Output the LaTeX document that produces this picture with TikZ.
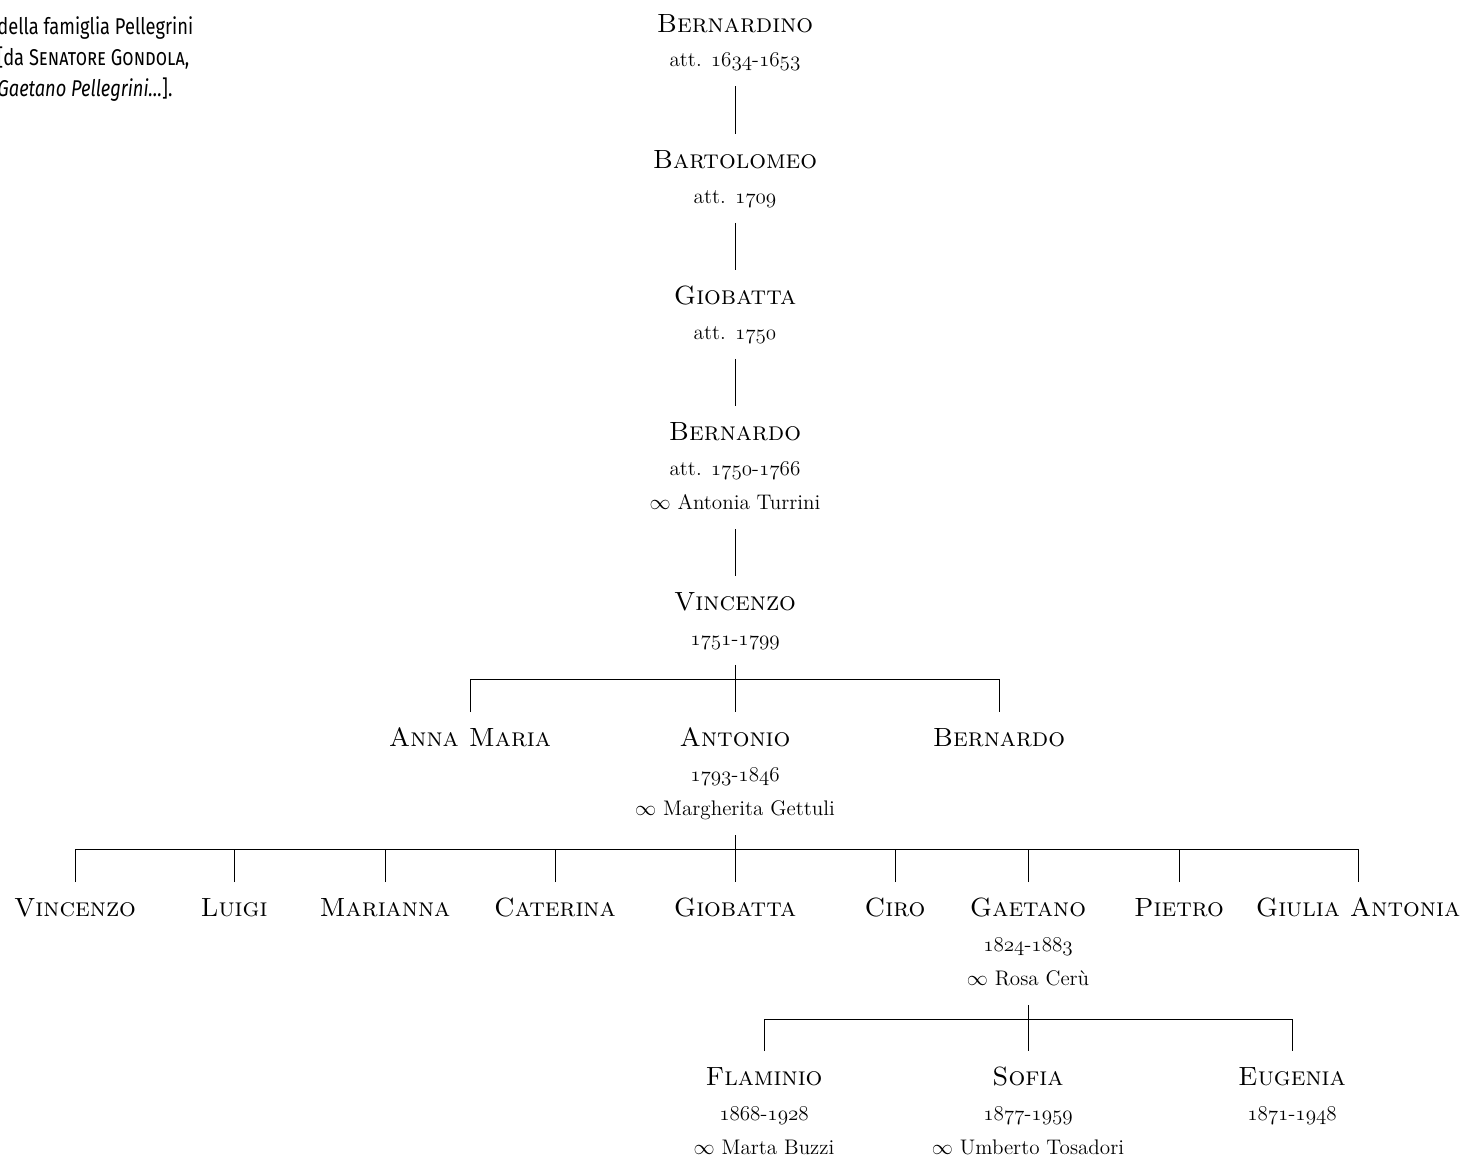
\documentclass[tikz,border=0pt]{standalone}
\usepackage{fontspec}
\newfontfamily\capfont{Fira Sans}[FakeStretch=0.8]

% old style figures, names, marriage sign
\newcommand{\osf}[1]{{\usefont{OML}{cmm}{m}{it}#1}}
\newcommand{\yrs}[2]{\osf{#1}-\osf{#2}}
\newcommand{\nm}[1]{\rule{0pt}{15.6pt}{\fontsize{15}{19.5}\selectfont\scshape #1}}
\newcommand{\marr}{$\infty$~}

\tikzset{
  person/.style={anchor=north, align=center, inner xsep=0pt, inner ysep=4pt,
    font=\fontsize{12}{19.5}\selectfont,
    execute at end node={\rule[-7pt]{0pt}{7pt}}},
  caption/.style={align=left, inner sep=0pt,
    font=\capfont\fontsize{13}{17.6}\selectfont},
  tree/.style={line width=0.5pt}
}

\begin{document}
\begin{tikzpicture}[x=0.02cm, y=-0.02cm, tree]
    \useasboundingbox (0,0) rectangle (1464,1157);
    \clip (0,0) rectangle (1464,1157);

    % Caption
    \node[caption, anchor=north west] (caption) at (-3,16)
        {della famiglia Pellegrini\\{}[da {\scshape Senatore Gondola},\\
         \textit{Gaetano Pellegrini\dots}].};

    % Line of descent
    \node[person] (bernardino) at (735,-2.5) {\nm{Bernardino}\\ att. \yrs{1634}{1653}};
    \node[person] (bartolomeo) at (735,134) {\nm{Bartolomeo}\\ att. \osf{1709}};
    \node[person] (giobattaA) at (735,270) {\nm{Giobatta}\\ att. \osf{1750}};
    \node[person] (bernardoA) at (735,406) {\nm{Bernardo}\\ att. \yrs{1750}{1766}\\ \marr Antonia Turrini};
    \node[person] (vincenzoA) at (735,576) {\nm{Vincenzo}\\ \yrs{1751}{1799}};

    % Children of Vincenzo
    \node[person] (annamaria) at (470,712) {\nm{Anna Maria}};
    \node[person] (antonio) at (735,712) {\nm{Antonio}\\ \yrs{1793}{1846}\\ \marr Margherita Gettuli};
    \node[person] (bernardoB) at (999,712) {\nm{Bernardo}};

    % Children of Antonio
    \node[person] (vincenzoB) at (75,882) {\nm{Vincenzo}};
    \node[person] (luigi) at (234,882) {\nm{Luigi}};
    \node[person] (marianna) at (385,882) {\nm{Marianna}};
    \node[person] (caterina) at (555,882) {\nm{Caterina}};
    \node[person] (giobattaB) at (735,882) {\nm{Giobatta}};
    \node[person] (ciro) at (895,882) {\nm{Ciro}};
    \node[person] (gaetano) at (1028,882) {\nm{Gaetano}\\ \yrs{1824}{1883}\\ \marr Rosa Cerù};
    \node[person] (pietro) at (1179,882) {\nm{Pietro}};
    \node[person] (giulia) at (1358,882) {\nm{Giulia Antonia}};

    % Children of Gaetano
    \node[person] (flaminio) at (764,1051) {\nm{Flaminio}\\ \yrs{1868}{1928}\\ \marr Marta Buzzi};
    \node[person] (sofia) at (1028,1051) {\nm{Sofia}\\ \yrs{1877}{1959}\\ \marr Umberto Tosadori};
    \node[person] (eugenia) at (1292,1051) {\nm{Eugenia}\\ \yrs{1871}{1948}};

    % Junctions
    \coordinate (bar1) at (735,679);
    \coordinate (bar2) at (735,849);
    \coordinate (bar3) at (1028,1019);

    % Edges
    \draw (bernardino) -- (bartolomeo);
    \draw (bartolomeo) -- (giobattaA);
    \draw (giobattaA) -- (bernardoA);
    \draw (bernardoA) -- (vincenzoA);

    \draw (vincenzoA) -- (antonio);
    \draw (annamaria) |- (bar1) -| (bernardoB);

    \draw (antonio) -- (giobattaB);
    \draw (vincenzoB) |- (bar2) -| (giulia);
    \foreach \c in {luigi,marianna,caterina,ciro,gaetano,pietro}
        \draw (\c) -- (\c |- bar2);

    \draw (gaetano) -- (sofia);
    \draw (flaminio) |- (bar3) -| (eugenia);
\end{tikzpicture}
\end{document}
